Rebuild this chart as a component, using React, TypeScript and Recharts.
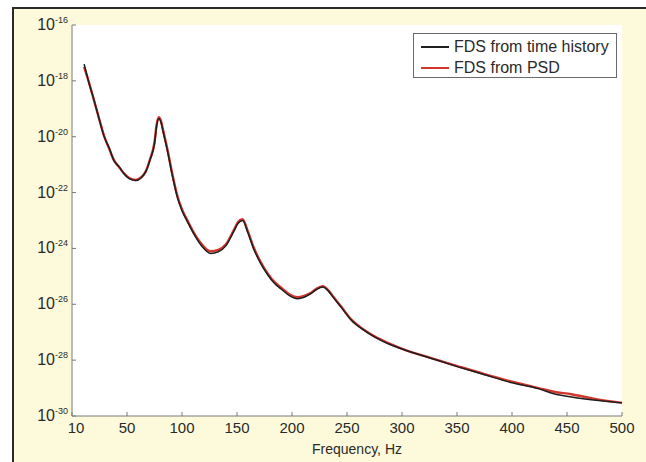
import React from "react";
import {
  LineChart,
  Line,
  XAxis,
  YAxis,
  CartesianGrid,
} from "recharts";

// frequency (Hz) and log10 of the FDS for each series
const freqs = [
  11, 13, 15, 20, 25, 29, 34, 38, 43, 47, 52, 58, 63, 67, 71, 75, 77, 79, 81,
  83, 87, 91, 96, 100, 105, 111, 118, 126, 133, 140, 147, 151, 155, 160, 165,
  171, 178, 184, 190, 198, 205, 211, 217, 222, 228, 233, 238, 245, 254, 265,
  275, 288, 302, 326, 351, 375, 399, 424, 438, 454, 474, 500,
];

const fdsPsdExp = [
  -17.5, -17.75, -18.0, -18.7, -19.4, -19.95, -20.45, -20.83, -21.1, -21.3,
  -21.48, -21.55, -21.45, -21.25, -20.8, -20.2, -19.55, -19.3, -19.45, -19.8,
  -20.5, -21.3, -22.15, -22.6, -23.0, -23.45, -23.85, -24.1, -24.05, -23.85,
  -23.35, -23.05, -22.95, -23.4, -23.95, -24.45, -24.9, -25.2, -25.4, -25.65,
  -25.75, -25.7, -25.6, -25.45, -25.35, -25.5, -25.75, -26.1, -26.55, -26.9,
  -27.15, -27.4, -27.62, -27.92, -28.22, -28.5, -28.76, -29.0, -29.13, -29.22,
  -29.38, -29.53,
];

const fdsTimeExp = [
  -17.4, -17.7, -18.02, -18.68, -19.42, -19.97, -20.42, -20.85, -21.08, -21.32,
  -21.5, -21.57, -21.47, -21.25, -20.82, -20.25, -19.6, -19.35, -19.5, -19.85,
  -20.55, -21.35, -22.2, -22.65, -23.05, -23.5, -23.92, -24.18, -24.12, -23.9,
  -23.4, -23.1, -23.0, -23.45, -24.0, -24.5, -24.95, -25.25, -25.45, -25.7,
  -25.8, -25.75, -25.62, -25.48, -25.38, -25.52, -25.78, -26.12, -26.57, -26.92,
  -27.17, -27.42, -27.63, -27.93, -28.24, -28.52, -28.8, -29.02, -29.2, -29.32,
  -29.43, -29.53,
];

const xTicks = [0, 50, 100, 150, 200, 250, 300, 350, 400, 450, 500];
const xTickLabels = ["10", "50", "100", "150", "200", "250", "300", "350", "400", "450", "500"];
const yTicks = [1e-30, 1e-28, 1e-26, 1e-24, 1e-22, 1e-20, 1e-18, 1e-16];

const seriesNames = ["FDS from time history", "FDS from PSD"];
const seriesColors = ["#1e1e1e", "#d3362c"];

const data = freqs.map((f, i) => ({
  f,
  time: Math.pow(10, fdsTimeExp[i]),
  psd: Math.pow(10, fdsPsdExp[i]),
}));

const FONT = "'Liberation Sans', Arial, Helvetica, sans-serif";
const AXIS = "#7a7a7a";
const TEXT = "#2a2a2a";

const XTick = (props: any) => {
  const { x, y, payload, index } = props;
  const i = xTicks.indexOf(payload.value);
  return (
    <text
      x={x + (index === 0 ? 4 : 0)}
      y={y}
      dy={13}
      textAnchor="middle"
      fontSize={15}
      fontFamily={FONT}
      fill={TEXT}
    >
      {xTickLabels[i]}
    </text>
  );
};

const YTick = (props: any) => {
  const { x, y, payload } = props;
  const e = Math.round(Math.log10(payload.value));
  return (
    <text x={x} y={y} textAnchor="end" fontFamily={FONT} fill={TEXT}>
      <tspan fontSize={16} dy={5}>
        10
      </tspan>
      <tspan fontSize={9} dy={-7}>
        {e}
      </tspan>
    </text>
  );
};

const LegendBox = () => (
  <div
    style={{
      position: "absolute",
      left: 413,
      top: 33,
      width: 202,
      height: 43,
      border: "1px solid #6a6a6a",
      background: "#fff",
      fontFamily: FONT,
      fontSize: 16,
      color: TEXT,
      lineHeight: "21px",
    }}
  >
    {seriesNames.map((name, i) => (
      <div
        key={name}
        style={{ display: "flex", alignItems: "center", height: 21, marginTop: i === 0 ? 2 : 0 }}
      >
        <span
          style={{
            display: "inline-block",
            width: 28,
            height: 0,
            borderTop: `2px solid ${seriesColors[i]}`,
            marginLeft: 7,
            marginRight: 5,
          }}
        />
        <span>{name}</span>
      </div>
    ))}
  </div>
);

export default function App() {
  return (
    <div
      style={{
        position: "absolute",
        left: 0,
        top: 0,
        width: 646,
        height: 462,
        background: "#fff",
        overflow: "hidden",
      }}
    >
      <div
        style={{
          position: "absolute",
          left: 12,
          top: 7,
          width: 640,
          height: 460,
          background: "#fdfadb",
          borderTop: "2px solid #2a2a2a",
          borderLeft: "2px solid #2a2a2a",
        }}
      />
      <div style={{ position: "absolute", left: 0, top: 0 }}>
        <LineChart
          width={646}
          height={462}
          data={data}
          margin={{ top: 25, right: 24, bottom: 0, left: 0 }}
        >
          <CartesianGrid fill="#fff" horizontal={false} vertical={false} />
          <XAxis
            dataKey="f"
            type="number"
            domain={[0, 500]}
            ticks={xTicks}
            interval={0}
            height={46}
            tickSize={-4}
            tickMargin={8}
            axisLine={{ stroke: AXIS }}
            tickLine={{ stroke: AXIS }}
            tick={<XTick />}
            label={{
              value: "Frequency, Hz",
              position: "insideBottom",
              offset: 0,
              dx: 10,
              dy: -8,
              fontSize: 14,
              fontFamily: FONT,
              fill: TEXT,
            }}
          />
          <XAxis
            xAxisId="top"
            orientation="top"
            dataKey="f"
            type="number"
            domain={[0, 500]}
            ticks={xTicks}
            interval={0}
            height={0}
            tickSize={-4}
            axisLine={{ stroke: AXIS }}
            tickLine={{ stroke: AXIS }}
            tick={false}
          />
          <YAxis
            scale="log"
            type="number"
            domain={[1e-30, 1e-16]}
            allowDataOverflow
            ticks={yTicks}
            interval={0}
            width={72}
            tickSize={-4}
            tickMargin={8}
            axisLine={{ stroke: AXIS }}
            tickLine={{ stroke: AXIS }}
            tick={<YTick />}
          />
          <YAxis
            yAxisId="right"
            orientation="right"
            scale="log"
            type="number"
            domain={[1e-30, 1e-16]}
            allowDataOverflow
            ticks={yTicks}
            interval={0}
            width={0}
            tickSize={-4}
            axisLine={{ stroke: AXIS }}
            tickLine={{ stroke: AXIS }}
            tick={false}
          />
          <Line
            type="monotone"
            dataKey="psd"
            name={seriesNames[1]}
            stroke={seriesColors[1]}
            strokeWidth={2.4}
            dot={false}
            isAnimationActive={false}
          />
          <Line
            type="monotone"
            dataKey="time"
            name={seriesNames[0]}
            stroke={seriesColors[0]}
            strokeWidth={1.5}
            dot={false}
            isAnimationActive={false}
          />
        </LineChart>
      </div>
      <LegendBox />
    </div>
  );
}
